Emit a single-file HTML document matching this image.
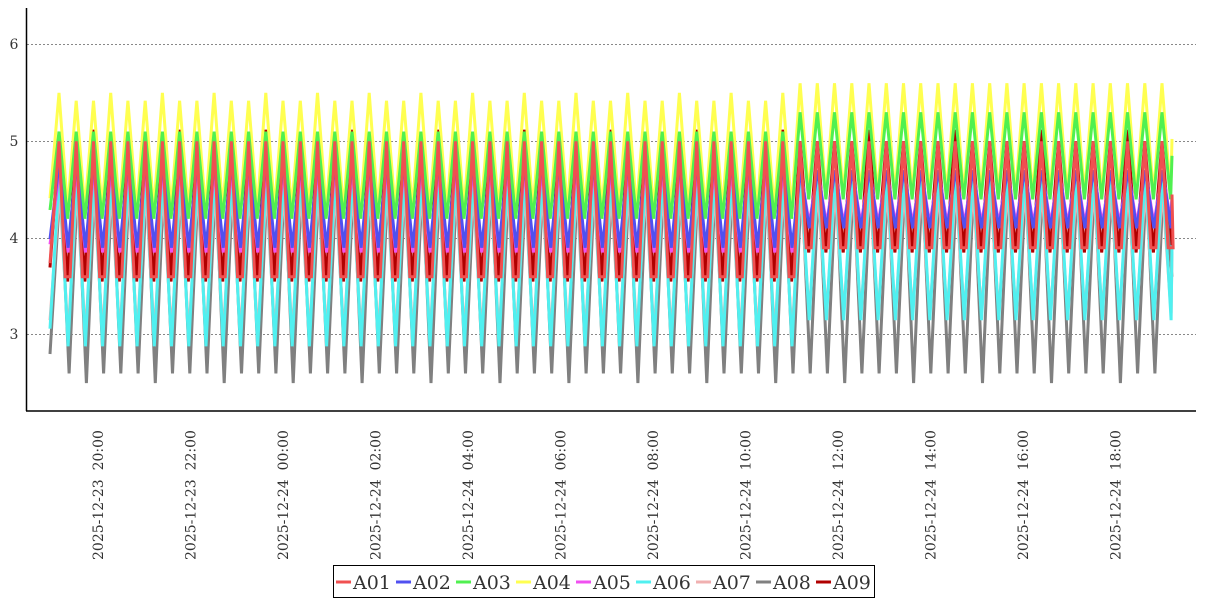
<!DOCTYPE html>
<html><head><meta charset="utf-8"><style>
body{margin:0;background:#fff;width:1207px;height:600px;overflow:hidden;font-family:"DejaVu Serif","Liberation Serif",serif}
#xl text{white-space:pre}
</style></head><body>
<svg id="s" width="1207" height="600" xmlns="http://www.w3.org/2000/svg" style="position:absolute;left:0;top:0">
<g stroke="#888" stroke-dasharray="2,2" stroke-width="1">
<line x1="27" y1="44.5" x2="1196" y2="44.5"/><line x1="27" y1="141.5" x2="1196" y2="141.5"/>
<line x1="27" y1="238.5" x2="1196" y2="238.5"/><line x1="27" y1="334.5" x2="1196" y2="334.5"/>
</g>
<g font-size="14" fill="#333" text-anchor="middle">
<text x="14" y="49">6</text><text x="14" y="146">5</text><text x="14" y="243">4</text><text x="14" y="339">3</text>
</g>
<g id="series" fill="none" stroke-width="3" stroke-linejoin="miter"></g>
<line x1="26.5" y1="8" x2="26.5" y2="411" stroke="#000" stroke-width="1.5"/>
<line x1="26" y1="411" x2="1196" y2="411" stroke="#000" stroke-width="1.5"/>
<g id="xl" font-size="14" fill="#333"></g>
<rect x="333.5" y="565.5" width="541" height="32" fill="#fff" stroke="#000"/>
<g id="lg" font-size="19" fill="#333"></g>
</svg>
<script>
var NS="http://www.w3.org/2000/svg";
function Y(v){return 238-(v-4)*96.7;}
var S=[
["A01","#f05050",5.0,3.6,5.0,3.9,0],
["A02","#5050f0",4.8,3.9,4.7,4.1,0.5],
["A03","#50f050",5.1,4.2,5.3,4.4,0],
["A04","#ffff50",5.42,4.3,5.6,4.45,0],
["A05","#f050f0",4.7,3.85,4.7,4.15,0.5],
["A06","#50f0f0",4.7,2.88,4.7,3.15,0.5],
["A07","#f0b0b0",4.5,3.0,4.5,3.22,0.5],
["A08","#808080",4.6,2.6,4.6,2.6,1.5],
["A09","#b00000",5.0,3.55,5.0,3.85,0]];
var order=[8,7,6,5,4,1,3,2,0];
var x0=50,x1=1172,N=64,p0=59,per=(1162-59)/N;
var g=document.getElementById("series");
order.forEach(function(i){
 var s=S[i],pts=[];
 var start=s[3]+(s[2]-s[3])*0.1;
 pts.push(x0+","+Y(start).toFixed(1));
 for(var k=0;k<=N;k++){
  var xp=p0+k*per+s[6],late=xp>790;
  var pk=late?s[4]:s[2],tr=late?s[5]:s[3];
  if(i==3&&!late&&k%3==0)pk=5.5;
  if(i==7&&k%4==1)tr=2.5;
  if(i==8&&k%5==2)pk=5.12;
  pts.push(xp.toFixed(1)+","+Y(pk).toFixed(1));
  var xt=xp+per/2;
  if(xt<x1){
   if(i==0){pts.push((xt-2.5).toFixed(1)+","+Y(tr).toFixed(1));pts.push((xt+2.5).toFixed(1)+","+Y(tr).toFixed(1));}
   else pts.push(xt.toFixed(1)+","+Y(tr).toFixed(1));
  }
 }
 pts.push(x1+","+Y(s[5]+(s[4]-s[5])*0.5).toFixed(1));
 var pl=document.createElementNS(NS,"polyline");
 pl.setAttribute("points",pts.join(" "));pl.setAttribute("stroke",s[1]);
 g.appendChild(pl);
});
var labs=["2025-12-23  20:00","2025-12-23  22:00","2025-12-24  00:00","2025-12-24  02:00","2025-12-24  04:00","2025-12-24  06:00","2025-12-24  08:00","2025-12-24  10:00","2025-12-24  12:00","2025-12-24  14:00","2025-12-24  16:00","2025-12-24  18:00"];
var xl=document.getElementById("xl");
labs.forEach(function(t,i){
 var x=98+i*92.5+5,y=560;
 var e=document.createElementNS(NS,"text");
 e.setAttribute("x",x);e.setAttribute("y",y);
 e.setAttribute("transform","rotate(-90 "+x+" "+y+")");
 e.textContent=t;xl.appendChild(e);
});
var lg=document.getElementById("lg"),lx=336;
S.forEach(function(s){
 var l=document.createElementNS(NS,"line");
 l.setAttribute("x1",lx);l.setAttribute("x2",lx+15);l.setAttribute("y1",582);l.setAttribute("y2",582);
 l.setAttribute("stroke",s[1]);l.setAttribute("stroke-width",3);lg.appendChild(l);
 var t=document.createElementNS(NS,"text");
 t.setAttribute("x",lx+17);t.setAttribute("y",589);t.textContent=s[0];lg.appendChild(t);
 lx+=60;
});
</script>
</body></html>
